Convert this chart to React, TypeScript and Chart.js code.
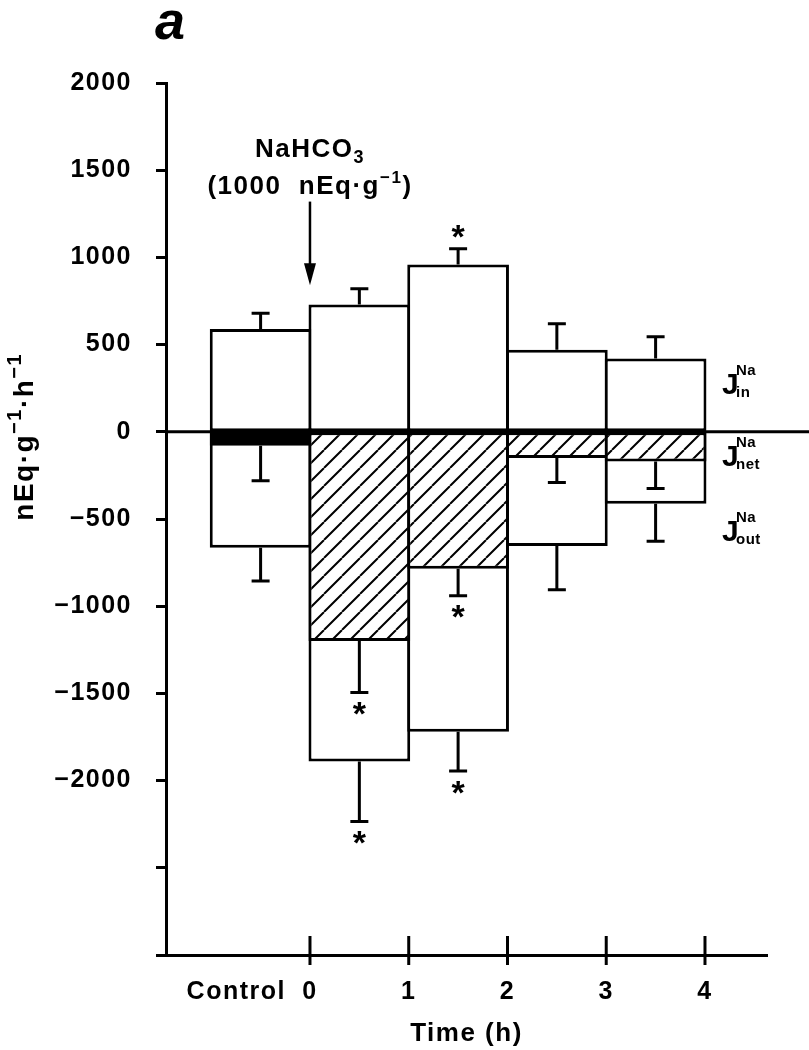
import React, { useEffect, useRef } from 'react';
import { Chart, registerables } from 'chart.js';

Chart.register(...registerables);

// Sodium fluxes (nEq·g⁻¹·h⁻¹) for the control period and each hour after the NaHCO3 load
const periods = ['Control', '0–1 h', '1–2 h', '2–3 h', '3–4 h'];
const periodMid = [-0.5, 0.5, 1.5, 2.5, 3.5];
const jIn = [590, 730, 960, 470, 420];
const jInErr = [90, 90, 90, 150, 125];
const jNet = [-80, -1200, -785, -150, -170];
const jNetErr = [200, 295, 155, 140, 155];
const jOut = [-665, -1890, -1720, -655, -413];
const jOutErr = [190, 345, 225, 250, 215];
const sigIn = [false, false, true, false, false];
const sigNet = [false, true, true, false, false];
const sigOut = [false, true, true, false, false];
const hourTicks = [0, 1, 2, 3, 4];
const yMin = -3000;
const yMax = 2000;
const yStep = 500;
const yLabelFloor = -2000;

const FONT = '"Liberation Sans", Arial, Helvetica, sans-serif';

type Seg = { t: string; size: number; weight?: string; rise?: number };

function drawRich(
  ctx: CanvasRenderingContext2D,
  segs: Seg[],
  x: number,
  y: number,
  align: 'left' | 'center',
  spacing = 0
) {
  ctx.save();
  ctx.textAlign = 'left';
  ctx.textBaseline = 'alphabetic';
  (ctx as any).letterSpacing = spacing + 'px';
  const widths = segs.map((s) => {
    ctx.font = `${s.weight || 'normal'} ${s.size}px ${FONT}`;
    return ctx.measureText(s.t).width;
  });
  const total = widths.reduce((a, b) => a + b, 0);
  let cx = align === 'center' ? x - total / 2 : x;
  segs.forEach((s, i) => {
    ctx.font = `${s.weight || 'normal'} ${s.size}px ${FONT}`;
    ctx.fillStyle = '#000';
    ctx.fillText(s.t, cx, y - (s.rise || 0));
    cx += widths[i];
  });
  ctx.restore();
}

function makeHatch(): CanvasPattern | string {
  const size = 18;
  const c = document.createElement('canvas');
  c.width = size;
  c.height = size;
  const g = c.getContext('2d');
  if (!g) return '#fff';
  g.fillStyle = '#fff';
  g.fillRect(0, 0, size, size);
  g.strokeStyle = '#000';
  g.lineWidth = 2;
  g.beginPath();
  for (const k of [-size, 0, size]) {
    g.moveTo(k, size);
    g.lineTo(k + size, 0);
  }
  g.stroke();
  return g.createPattern(c, 'repeat') || '#fff';
}

const fmt = (v: number) => (v < 0 ? '\u2212' + Math.abs(v) : String(v));

const overlay = {
  id: 'overlay',
  beforeDraw(chart: any) {
    (chart.ctx as any).letterSpacing = '1.5px';
  },
  afterDatasetsDraw(chart: any) {
    const ctx: CanvasRenderingContext2D = chart.ctx;
    const xs = chart.scales.x;
    const ys = chart.scales.y;
    const area = chart.chartArea;
    ctx.save();
    ctx.strokeStyle = '#000';
    ctx.fillStyle = '#000';
    ctx.lineCap = 'butt';

    // zero line running out past the last bar
    const y0 = ys.getPixelForValue(0);
    ctx.lineWidth = 3;
    ctx.beginPath();
    ctx.moveTo(area.left, y0);
    ctx.lineTo(chart.width, y0);
    ctx.stroke();

    // error bars and significance marks
    const star = (x: number, yc: number) => {
      ctx.save();
      (ctx as any).letterSpacing = '0px';
      ctx.font = `bold 34px ${FONT}`;
      ctx.textAlign = 'center';
      ctx.textBaseline = 'alphabetic';
      const m = ctx.measureText('*');
      const off = (m.actualBoundingBoxAscent - m.actualBoundingBoxDescent) / 2;
      ctx.fillText('*', x, yc + off);
      ctx.restore();
    };
    const errBar = (i: number, v: number, e: number, up: boolean, sig: boolean) => {
      const x = xs.getPixelForValue(periodMid[i]);
      const ya = ys.getPixelForValue(v);
      const yb = ys.getPixelForValue(up ? v + e : v - e);
      ctx.lineWidth = 3;
      ctx.beginPath();
      ctx.moveTo(x, ya);
      ctx.lineTo(x, yb);
      ctx.moveTo(x - 9, yb);
      ctx.lineTo(x + 9, yb);
      ctx.stroke();
      if (sig) star(x, up ? yb - 17 : yb + 16);
    };
    periods.forEach((_, i) => {
      errBar(i, jIn[i], jInErr[i], true, sigIn[i]);
      errBar(i, jNet[i], jNetErr[i], false, sigNet[i]);
      errBar(i, jOut[i], jOutErr[i], false, sigOut[i]);
    });

    // flux labels at the right
    const lx = xs.getPixelForValue(4) + 17;
    const fluxLabel = (sub: string, base: number) => {
      ctx.save();
      (ctx as any).letterSpacing = '0.5px';
      ctx.textAlign = 'left';
      ctx.textBaseline = 'alphabetic';
      ctx.font = `bold 30px ${FONT}`;
      ctx.fillText('J', lx, base);
      ctx.font = `bold 15px ${FONT}`;
      ctx.fillText('Na', lx + 14, base - 19);
      ctx.fillText(sub, lx + 14, base + 3);
      ctx.restore();
    };
    fluxLabel('in', ys.getPixelForValue(215));
    fluxLabel('net', ys.getPixelForValue(-195));
    fluxLabel('out', ys.getPixelForValue(-625));

    // dose annotation with arrow at time 0
    const ax = xs.getPixelForValue(0);
    drawRich(
      ctx,
      [
        { t: 'NaHCO', size: 26, weight: 'bold' },
        { t: '3', size: 18, weight: 'bold', rise: -6 },
      ],
      ax,
      157,
      'center',
      1.5
    );
    drawRich(
      ctx,
      [
        { t: '(1000  nEq·g', size: 26, weight: 'bold' },
        { t: '\u22121', size: 17, weight: 'bold', rise: 11 },
        { t: ')', size: 26, weight: 'bold' },
      ],
      ax,
      194,
      'center',
      1.5
    );
    const ta = ys.getPixelForValue(1320);
    const tb = ys.getPixelForValue(840);
    ctx.lineWidth = 2.5;
    ctx.beginPath();
    ctx.moveTo(ax, ta);
    ctx.lineTo(ax, tb - 18);
    ctx.stroke();
    ctx.beginPath();
    ctx.moveTo(ax - 6, tb - 22);
    ctx.lineTo(ax + 6, tb - 22);
    ctx.lineTo(ax, tb);
    ctx.closePath();
    ctx.fill();
    ctx.restore();
  },
  afterDraw(chart: any) {
    const ctx: CanvasRenderingContext2D = chart.ctx;
    const xs = chart.scales.x;
    const ys = chart.scales.y;
    ctx.save();
    ctx.strokeStyle = '#000';
    ctx.fillStyle = '#000';
    ctx.lineWidth = 3;
    // hour tick marks crossing the time axis
    const yb = chart.chartArea.bottom;
    hourTicks.forEach((h) => {
      const x = xs.getPixelForValue(h);
      ctx.beginPath();
      ctx.moveTo(x, yb - 19);
      ctx.lineTo(x, yb + 10);
      ctx.stroke();
    });
    // "Control" label beside the 0 h tick
    (ctx as any).letterSpacing = '1.5px';
    ctx.font = `bold 25px ${FONT}`;
    ctx.textAlign = 'right';
    ctx.textBaseline = 'alphabetic';
    ctx.fillText('Control', xs.getPixelForValue(0) - 24, 999);

    // y-axis title with superscripts
    ctx.translate(33, ys.getPixelForValue(0) + 5);
    ctx.rotate(-Math.PI / 2);
    drawRich(
      ctx,
      [
        { t: 'nEq·g', size: 28, weight: 'bold' },
        { t: '\u22121', size: 20, weight: 'bold', rise: 12 },
        { t: '·h', size: 28, weight: 'bold' },
        { t: '\u22121', size: 20, weight: 'bold', rise: 12 },
      ],
      0,
      0,
      'center',
      1.5
    );
    ctx.restore();

    // panel letter
    ctx.save();
    ctx.fillStyle = '#000';
    ctx.font = `italic bold 54px ${FONT}`;
    ctx.textAlign = 'left';
    ctx.textBaseline = 'alphabetic';
    ctx.fillText('a', 155, 39);
    ctx.restore();
  },
};

export default function App() {
  const ref = useRef<HTMLCanvasElement | null>(null);

  useEffect(() => {
    if (!ref.current) return;
    const hatch = makeHatch();
    const pts = (lo: number[], hi: number[]) =>
      periodMid.map((x, i) => ({ x, y: [lo[i], hi[i]] }));
    const zeros = periods.map(() => 0);
    // control net flux drawn solid, post-load net fluxes hatched
    const netFill = periods.map((_, i) => (i === 0 ? '#000' : hatch));
    const netBorder = periods.map((_, i) => (i === 0 ? 40 : 3));
    const barBase = {
      borderColor: '#000',
      borderWidth: 3,
      borderSkipped: false as const,
      inflateAmount: 0,
      grouped: false,
      barPercentage: 1.03,
      categoryPercentage: 1,
    };

    const chart = new Chart(ref.current, {
      type: 'bar',
      data: {
        datasets: [
          {
            ...barBase,
            label: 'J net',
            data: pts(jNet, zeros) as any,
            backgroundColor: netFill as any,
            borderWidth: netBorder as any,
          },
          {
            ...barBase,
            label: 'J out',
            data: pts(jOut, zeros) as any,
            backgroundColor: '#fff',
          },
          {
            ...barBase,
            label: 'J in',
            data: pts(zeros, jIn) as any,
            backgroundColor: '#fff',
          },
        ],
      },
      options: {
        responsive: false,
        animation: false,
        devicePixelRatio: 1,
        events: [],
        layout: { padding: { top: 83, right: 42, left: 0, bottom: 0 } },
        plugins: {
          legend: { display: false },
          tooltip: { enabled: false },
        },
        scales: {
          x: {
            type: 'linear',
            offset: false,
            min: -1.458,
            max: 4.628,
            afterBuildTicks: (s: any) => {
              s.ticks = hourTicks.map((v) => ({ value: v }));
            },
            afterFit: (s: any) => {
              s.height = 95;
            },
            grid: { display: false, drawTicks: false },
            border: { display: true, width: 3, color: '#000' },
            ticks: {
              autoSkip: false,
              maxRotation: 0,
              padding: 22,
              color: '#000',
              font: { family: FONT, size: 25, weight: 'bold' },
              callback: (v: any) => String(v),
            },
            title: {
              display: true,
              text: 'Time (h)',
              color: '#000',
              font: { family: FONT, size: 26, weight: 'bold' },
              padding: { top: 0, bottom: 1 },
            },
          },
          y: {
            type: 'linear',
            min: yMin,
            max: yMax,
            afterFit: (s: any) => {
              s.width = 166;
            },
            grid: {
              drawOnChartArea: false,
              drawTicks: true,
              tickLength: 10,
              tickWidth: 3,
              tickColor: '#000',
            },
            border: { display: true, width: 3, color: '#000' },
            ticks: {
              stepSize: yStep,
              padding: 24,
              color: '#000',
              font: { family: FONT, size: 25, weight: 'bold' },
              callback: (v: any) => (Number(v) >= yLabelFloor ? fmt(Number(v)) : ''),
            },
          },
        },
      } as any,
      plugins: [overlay],
    });

    return () => chart.destroy();
  }, []);

  return (
    <div style={{ position: 'absolute', left: 0, top: 0, width: 809, height: 1050, background: '#fff' }}>
      <canvas ref={ref} width={809} height={1050} style={{ width: 809, height: 1050, display: 'block' }} />
    </div>
  );
}
